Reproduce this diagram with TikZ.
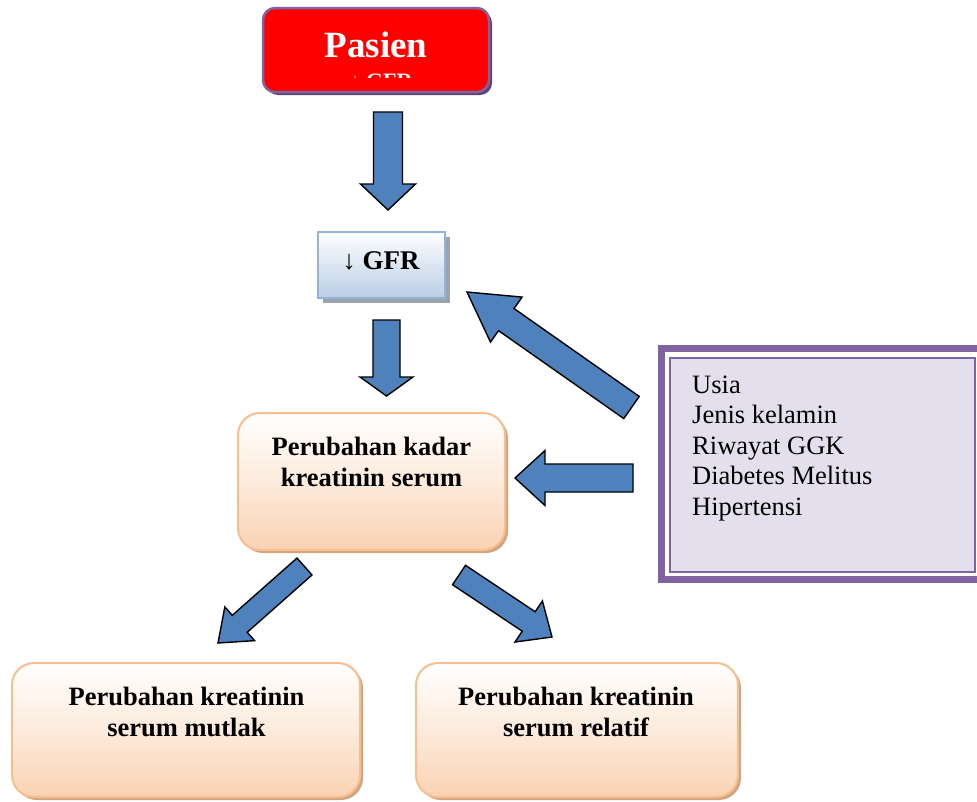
\documentclass[tikz,border=0pt]{standalone}
\usepackage{fontspec}
\setmainfont{Liberation Serif}
\usetikzlibrary{calc,shadows}

\definecolor{arrowblue}{HTML}{4F81BD}
\definecolor{peachline}{HTML}{F9BE8F}
\definecolor{peachfill}{HTML}{FAD2B2}
\definecolor{peachshadow}{HTML}{CFA582}
\definecolor{pasienred}{HTML}{FF0000}
\definecolor{pasienline}{HTML}{8064A2}
\definecolor{pasienshadow}{HTML}{5A4672}
\definecolor{gfrline}{HTML}{95B3D7}
\definecolor{gfrfill}{HTML}{B9CDE5}
\definecolor{gfrshadow}{HTML}{9AA3AE}
\definecolor{lilac}{HTML}{E4DFEC}

\tikzset{
  blockarrow/.style={fill=arrowblue, draw=black, line width=1.4pt, line join=miter},
  peachbox/.style={draw=peachline, line width=2pt, rounded corners=22pt,
    top color=white, bottom color=peachfill, middle color=peachfill!45,
    drop shadow={fill=peachshadow, opacity=1, shadow xshift=3pt, shadow yshift=-3pt}},
  boxtext/.style={font=\fontsize{26.5}{31}\selectfont\bfseries, inner sep=0pt, anchor=base},
  listtext/.style={font=\fontsize{26.5}{31}\selectfont, inner sep=0pt, anchor=base west},
}

% block arrow: tail, tip, half shaft width, half head width, head length
\newcommand\blockarrow[5]{%
  \coordinate (ba-h) at ($(#2)!#5!(#1)$);
  \draw[blockarrow] ($(#1)!#3!90:(#2)$) -- ($(ba-h)!#3!90:(#2)$)
    -- ($(ba-h)!#4!90:(#2)$) -- (#2) -- ($(ba-h)!#4!-90:(#2)$)
    -- ($(ba-h)!#3!-90:(#2)$) -- ($(#1)!#3!-90:(#2)$) -- cycle;}

\newcommand\twolines[2]{\parbox[t]{320pt}{\centering #1\\#2}}

\begin{document}
\begin{tikzpicture}[x=1pt, y=-1pt]
\useasboundingbox (0,0) rectangle (977,801);
\clip (0,0) rectangle (977,801);

% Pasien
\node[draw=pasienline, line width=2.5pt, fill=pasienred, rounded corners=12pt,
  minimum width=226pt, minimum height=84pt,
  drop shadow={fill=pasienshadow, opacity=1, shadow xshift=3pt, shadow yshift=-3pt}]
  (pasien) at (376,50) {};
\node[boxtext, font=\fontsize{37}{40}\selectfont\bfseries, text=white] (pasien-t) at (376,57) {Pasien};
\begin{scope}
  \clip (300,73.5) rectangle (450,77.5);
  \node[boxtext, font=\fontsize{22}{26}\selectfont\bfseries, text=white] (pasien-u) at (381,88.5) {↓ GFR};
\end{scope}

% GFR
\node[draw=gfrline, line width=1.5pt, top color=white, bottom color=gfrfill,
  minimum width=127pt, minimum height=66pt,
  drop shadow={fill=gfrshadow, opacity=1, shadow xshift=5pt, shadow yshift=-5pt}]
  (gfr) at (381.5,265) {};
\node[boxtext, font=\fontsize{27}{31}\selectfont\bfseries] (gfr-t) at (381,269) {↓ GFR};

% Perubahan kadar kreatinin serum
\node[peachbox, minimum width=267pt, minimum height=137pt] (kadar) at (371.5,481.5) {};
\node[boxtext] (kadar-t) at (371.5,455) {\twolines{Perubahan kadar}{kreatinin serum}};

% bottom boxes
\node[peachbox, minimum width=348pt, minimum height=134pt] (mutlak) at (186,730) {};
\node[boxtext] (mutlak-t) at (186.5,705) {\twolines{Perubahan kreatinin}{serum mutlak}};
\node[peachbox, minimum width=322pt, minimum height=134pt] (relatif) at (577,730) {};
\node[boxtext] (relatif-t) at (576,705) {\twolines{Perubahan kreatinin}{serum relatif}};

% risk factors
\draw[pasienline, line width=7pt] (661.5,348.5) rectangle (995,579.5);
\draw[pasienline, line width=1.5pt, fill=lilac] (670,358) rectangle (975,572);
\node[listtext] (f1) at (692,393) {Usia};
\node[listtext] (f2) at (692,423.5) {Jenis kelamin};
\node[listtext] (f3) at (692,454) {Riwayat GGK};
\node[listtext] (f4) at (692,484.5) {Diabetes Melitus};
\node[listtext] (f5) at (692,515) {Hipertensi};

% arrows
\coordinate (a1s) at (388,112);   \coordinate (a1e) at (388,210);
\coordinate (a2s) at (386.5,320); \coordinate (a2e) at (386.5,396);
\coordinate (a3s) at (631.5,407.5); \coordinate (a3e) at (467,292);
\coordinate (a4s) at (633,478);   \coordinate (a4e) at (515,478);
\coordinate (a5s) at (304.5,566.5); \coordinate (a5e) at (218,643);
\coordinate (a6s) at (459,575);   \coordinate (a6e) at (552,637);

\blockarrow{a1s}{a1e}{14.5pt}{27.5pt}{26pt}
\blockarrow{a2s}{a2e}{13.5pt}{26.5pt}{19pt}
\blockarrow{a3s}{a3e}{13.5pt}{27.5pt}{48pt}
\blockarrow{a4s}{a4e}{14pt}{27.5pt}{30pt}
\blockarrow{a5s}{a5e}{11.3pt}{22.5pt}{29pt}
\blockarrow{a6s}{a6e}{11.7pt}{24.7pt}{28pt}
\end{tikzpicture}
\end{document}
